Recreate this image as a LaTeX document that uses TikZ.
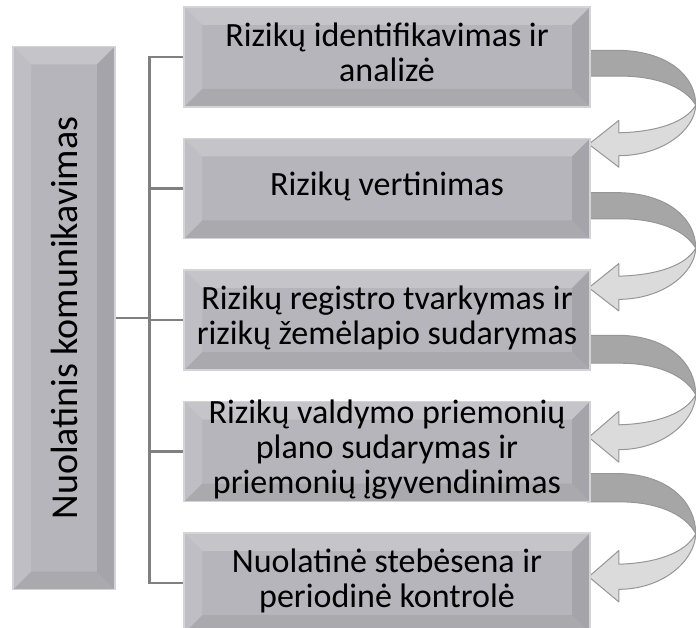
\documentclass[tikz,border=0pt]{standalone}
\usepackage{fontspec}
\setmainfont{Carlito}
\usetikzlibrary{positioning,calc,backgrounds}

\definecolor{boxfill}{RGB}{181,181,187}
\definecolor{boxtop}{RGB}{196,196,201}
\definecolor{boxleft}{RGB}{190,190,196}
\definecolor{boxbottom}{RGB}{169,169,174}
\definecolor{boxright}{RGB}{164,164,170}
\definecolor{boxedge}{RGB}{212,212,216}
\definecolor{linkgray}{RGB}{128,128,128}
\definecolor{arrowdark}{RGB}{166,166,166}
\definecolor{arrowlight}{RGB}{219,219,219}
\definecolor{arrowedge}{RGB}{150,150,150}

\newcommand{\bev}{18pt}

\tikzset{
  bevel/.style={
    path picture={
      \coordinate (pp-nw) at (path picture bounding box.north west);
      \coordinate (pp-ne) at (path picture bounding box.north east);
      \coordinate (pp-sw) at (path picture bounding box.south west);
      \coordinate (pp-se) at (path picture bounding box.south east);
      \fill[boxtop] (pp-nw) -- (pp-ne) -- ([shift={(-\bev,-\bev)}]pp-ne) -- ([shift={(\bev,-\bev)}]pp-nw) -- cycle;
      \fill[boxbottom] (pp-sw) -- (pp-se) -- ([shift={(-\bev,\bev)}]pp-se) -- ([shift={(\bev,\bev)}]pp-sw) -- cycle;
      \fill[boxleft] (pp-nw) -- (pp-sw) -- ([shift={(\bev,\bev)}]pp-sw) -- ([shift={(\bev,-\bev)}]pp-nw) -- cycle;
      \fill[boxright] (pp-ne) -- (pp-se) -- ([shift={(-\bev,\bev)}]pp-se) -- ([shift={(-\bev,-\bev)}]pp-ne) -- cycle;
    }
  },
  stepbox/.style={bevel, draw=boxedge, line width=1.5pt, fill=boxfill,
    minimum width=406pt, minimum height=100pt, inner xsep=0pt, inner ysep=-4pt,
    align=center, font=\fontsize{34}{35}\selectfont,
    execute at begin node=\strut, execute at end node=\strut},
  sidebox/.style={bevel, draw=boxedge, line width=1.5pt, fill=boxfill,
    minimum width=102pt, minimum height=543pt, inner sep=0pt,
    font=\fontsize{38}{40}\selectfont},
  link/.style={draw=linkgray, line width=2.5pt},
  loop dark/.style={fill=arrowdark, draw=arrowedge, line width=1pt, line join=round},
  loop light/.style={fill=arrowlight, draw=arrowedge, line width=1pt, line join=round}
}

\begin{document}
\begin{tikzpicture}[x=1pt, y=-1pt, node distance=30pt]

    \useasboundingbox (0,0) rectangle (696,628);

    \node[stepbox] (identifikavimas) at (387,57) {Rizikų identifikavimas ir\\analizė};
    \node[stepbox] (vertinimas) [below = of identifikavimas] {Rizikų vertinimas};
    \node[stepbox] (registras) [below = of vertinimas] {Rizikų registro tvarkymas ir\\rizikų žemėlapio sudarymas};
    \node[stepbox] (priemones) [below = of registras] {Rizikų valdymo priemonių\\plano sudarymas ir\\priemonių įgyvendinimas};
    \node[stepbox] (stebesena) [below = of priemones] {Nuolatinė stebėsena ir\\periodinė kontrolė};

    \node[sidebox] (komunikavimas) at (64,318) {\rotatebox{90}{Nuolatinis komunikavimas}};

    % tree lines
    \coordinate (bus) at ($(identifikavimas.west)+(-34,0)$);
    \draw[link] (identifikavimas.west) -- (bus) |- (stebesena.west);
    \foreach \n in {vertinimas, registras, priemones}
        \draw[link] (\n.west) -- (\n.west -| bus);
    \draw[link] (komunikavimas.east) -- (komunikavimas.east -| bus);

    % curved arrows between the steps
    \foreach \from/\to/\sy/\ty in {identifikavimas/vertinimas/57/8,
                                   vertinimas/registras/68/20,
                                   registras/priemones/80/38,
                                   priemones/stebesena/87/46} {
        \pgfmathsetmacro\len{130+\ty-\sy}
        \begin{scope}[on background layer, shift={($(\from.north east)+(0,\sy)$)}, yscale=\len/85]
            \path[loop light] (105,44) .. controls (104,70) and (72,97) .. (28,97)
                -- (28,109) -- (-2,85) -- (28,60) -- (28,73)
                .. controls (66,72) and (95,62) .. (105,44) -- cycle;
            \path[loop dark] (-4,-13.5) -- (30,-13.5) .. controls (78,-12) and (105,14) .. (105,44)
                .. controls (94,24) and (64,13.5) .. (30,13.5) -- (-4,13.5);
        \end{scope}
    }

\end{tikzpicture}
\end{document}
